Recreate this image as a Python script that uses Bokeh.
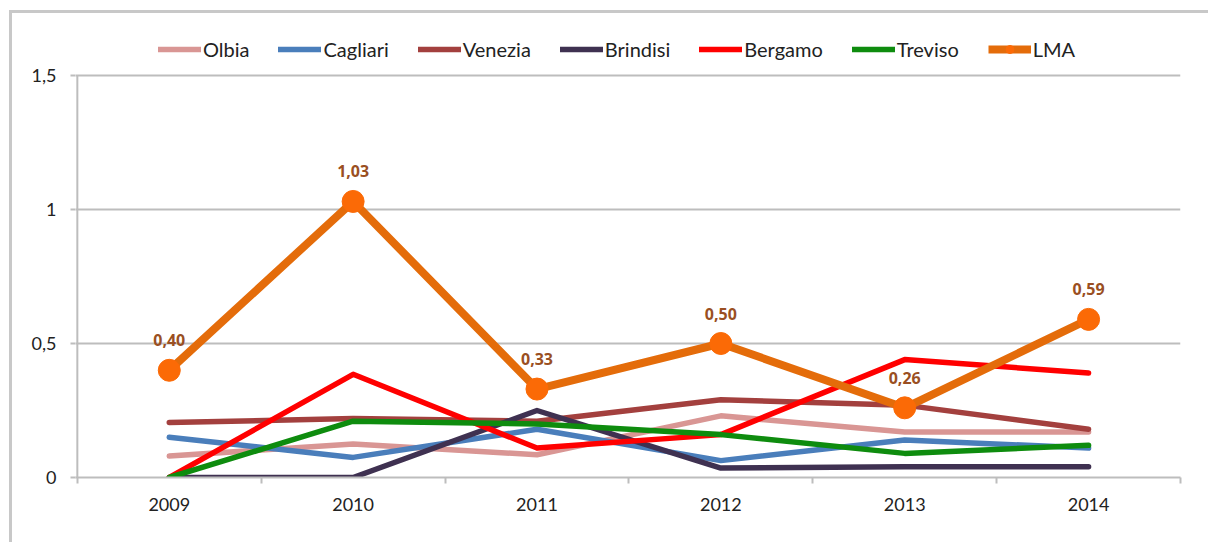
from bokeh.plotting import figure
from bokeh.models import (ColumnDataSource, Range1d, FixedTicker, Legend, LegendItem,
                          LabelSet, InlineStyleSheet)
from bokeh.core.properties import value
from bokeh.embed import file_html
from bokeh.resources import INLINE

years = ["2009", "2010", "2011", "2012", "2013", "2014"]
olbia    = [0.08, 0.125, 0.085, 0.23, 0.17, 0.17]
cagliari = [0.15, 0.075, 0.18, 0.063, 0.14, 0.11]
venezia  = [0.205, 0.22, 0.21, 0.29, 0.27, 0.18]
brindisi = [0.0, 0.0, 0.25, 0.035, 0.04, 0.04]
bergamo  = [0.0, 0.385, 0.11, 0.16, 0.44, 0.39]
treviso  = [0.0, 0.21, 0.20, 0.16, 0.09, 0.12]
lma      = [0.40, 1.03, 0.33, 0.50, 0.26, 0.59]
y_ticks = [0, 0.5, 1, 1.5]
y_tick_labels = ["0", "0,5", "1", "1,5"]

FONT = "Lato"
xs = [i + 0.5 for i in range(len(years))]

# layout (pixels): plot frame from top 20 to bottom 477; value axis 0..1.5 spans 477..75
FRAME_TOP, AXIS_TOP, AXIS_BOTTOM = 20, 75, 477
y_end = y_ticks[-1] * (AXIS_BOTTOM - FRAME_TOP) / (AXIS_BOTTOM - AXIS_TOP)

p = figure(width=1208, height=542, output_backend="svg", toolbar_location=None,
           x_range=Range1d(-0.01, len(years)), y_range=Range1d(0, y_end),
           min_border_left=75, min_border_right=28, min_border_top=FRAME_TOP,
           min_border_bottom=542 - AXIS_BOTTOM)
p.outline_line_color = None
p.background_fill_color = "white"
p.border_fill_color = "white"

# light frame around the whole chart (top and left edges visible)
p.stylesheets = [InlineStyleSheet(css="""
:host::after { content: ""; position: absolute; left: 9px; top: 10px; width: 1199px; height: 532px;
  border-left: 3px solid #c8c8c8; border-top: 3px solid #c8c8c8; pointer-events: none; }
""")]

grid_col = "#bdbdbd"
# value-axis line (only up to the top tick)
p.segment(x0=[0], y0=[y_ticks[0]], x1=[0], y1=[y_ticks[-1]], line_color=grid_col, line_width=2)

series = [
    ("Olbia", olbia, "#d99694"),
    ("Cagliari", cagliari, "#4a7ebb"),
    ("Venezia", venezia, "#a3403e"),
    ("Brindisi", brindisi, "#3f3151"),
    ("Bergamo", bergamo, "#ff0000"),
    ("Treviso", treviso, "#0e8c0e"),
]
items = []
for name, vals, col in series:
    r = p.line(xs, vals, line_color=col, line_width=5.5, line_join="round", line_cap="round")
    items.append(LegendItem(label=name, renderers=[r]))

src = ColumnDataSource(dict(x=xs, y=lma, lab=[f"{v:.2f}".replace(".", ",") for v in lma]))
rl = p.line("x", "y", source=src, line_color="#e46c0a", line_width=8, line_join="round")
rs = p.scatter("x", "y", source=src, size=22, fill_color="#fb6a06", line_color="#fb6a06")
items.append(LegendItem(label="LMA", renderers=[rl, rs]))

p.add_layout(LabelSet(x="x", y="y", text="lab", source=src, y_offset=24,
                      text_align="center", text_baseline="alphabetic",
                      text_font=value("Open Sans"), text_font_size="16px",
                      text_font_style="bold", text_color="#9a4f22"))

legend = Legend(items=items, orientation="horizontal", location=(83, 416),
                glyph_width=43, glyph_height=20, label_standoff=2, spacing=29,
                padding=0, margin=0, border_line_color=None, background_fill_alpha=0,
                label_text_font=FONT, label_text_font_size="20px", label_text_color="#222222")
p.add_layout(legend, "center")

# axes
p.xgrid.grid_line_color = None
p.ygrid.ticker = FixedTicker(ticks=y_ticks)
p.ygrid.grid_line_color = grid_col
p.ygrid.grid_line_width = 2

p.xaxis.ticker = FixedTicker(ticks=xs, minor_ticks=list(range(len(years) + 1)))
p.xaxis.major_label_overrides = {x: y for x, y in zip(xs, years)}
p.xaxis.major_tick_out = 0
p.xaxis.major_tick_in = 0
p.xaxis.minor_tick_out = 6
p.xaxis.minor_tick_in = 0
p.xaxis.minor_tick_line_color = grid_col
p.xaxis.minor_tick_line_width = 2
p.xaxis.major_label_standoff = 14
p.xaxis.axis_line_color = grid_col

p.yaxis.ticker = FixedTicker(ticks=y_ticks)
p.yaxis.major_label_overrides = {t: l for t, l in zip(y_ticks, y_tick_labels)}
p.yaxis.major_tick_out = 5
p.yaxis.major_tick_in = 0
p.yaxis.minor_tick_line_color = None
p.yaxis.major_label_standoff = 14
p.yaxis.axis_line_color = None

for ax in (p.xaxis, p.yaxis):
    ax.axis_line_width = 2
    ax.major_tick_line_color = grid_col
    ax.major_tick_line_width = 2
    ax.major_label_text_font = FONT
    ax.major_label_text_font_size = "18px"
    ax.major_label_text_color = "#222222"

open("out.html", "w").write(file_html(p, INLINE))
